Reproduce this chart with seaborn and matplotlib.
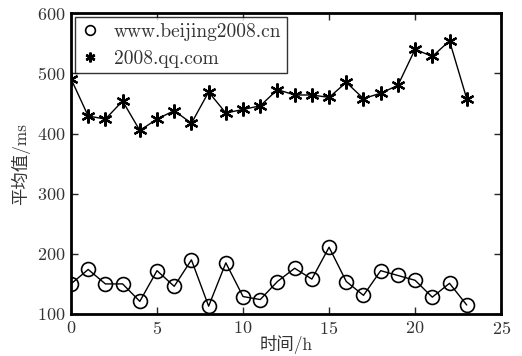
import matplotlib
matplotlib.use("Agg")
import matplotlib.pyplot as plt
import seaborn as sns
from matplotlib.lines import Line2D

hours = list(range(24))
beijing2008 = [150, 174, 150, 150, 121, 172, 146, 190, 113, 185, 129, 124,
               154, 176, 158, 211, 154, 131, 172, 164, 156, 128, 151, 115]
qq = [491, 429, 424, 454, 405, 424, 438, 417, 469, 434, 440, 446,
      473, 464, 464, 460, 485, 458, 467, 480, 540, 528, 554, 458]
labels = ["www.beijing2008.cn", "2008.qq.com"]
xticks = [0, 5, 10, 15, 20, 25]
yticks = [100, 200, 300, 400, 500, 600]

sns.set_style("ticks")
plt.rcParams['font.family'] = ['cmr10', 'Noto Sans CJK SC', 'DejaVu Serif']
plt.rcParams['axes.formatter.use_mathtext'] = True
plt.rcParams['axes.unicode_minus'] = False

fig = plt.figure(figsize=(5.22, 3.56), dpi=100)
ax = fig.add_axes([0.136, 0.118, 0.824, 0.845])

star = (6, 2, 0)

sns.lineplot(x=hours, y=beijing2008, ax=ax, color="black", lw=1,
             marker="o", markersize=10, markerfacecolor="none",
             markeredgecolor="black", markeredgewidth=1.2)
sns.lineplot(x=hours, y=qq, ax=ax, color="black", lw=1,
             marker=star, markersize=10, markeredgecolor="black",
             markeredgewidth=1.6)

ax.set_xlim(0, 25)
ax.set_ylim(100, 600)
ax.set_xticks(xticks)
ax.set_yticks(yticks)
ax.tick_params(direction="in", top=True, right=True, length=5, width=1,
               labelsize=13, labelcolor="#333333", pad=4)
for s in ax.spines.values():
    s.set_visible(True)
    s.set_linewidth(2)
    s.set_color("black")

ax.set_xlabel("时间/h", fontsize=12.5, labelpad=-1, color="#333333")
ax.set_ylabel("平均值/ms", fontsize=12.5, labelpad=5, color="#333333")

handles = [
    Line2D([], [], ls="none", marker="o", markersize=7, markerfacecolor="none",
           markeredgecolor="black", markeredgewidth=1.2),
    Line2D([], [], ls="none", marker=star, markersize=7, color="black",
           markeredgewidth=1.8),
]
leg = ax.legend(handles, labels, loc="upper left", fontsize=14, frameon=True,
                fancybox=False, borderaxespad=0.2, handlelength=1.0,
                handletextpad=0.7, borderpad=0.3, labelspacing=0.45)
leg.get_frame().set_edgecolor("black")
leg.get_frame().set_linewidth(1)
for t in leg.get_texts():
    t.set_color("#333333")

fig.savefig("out.png", dpi=100)
